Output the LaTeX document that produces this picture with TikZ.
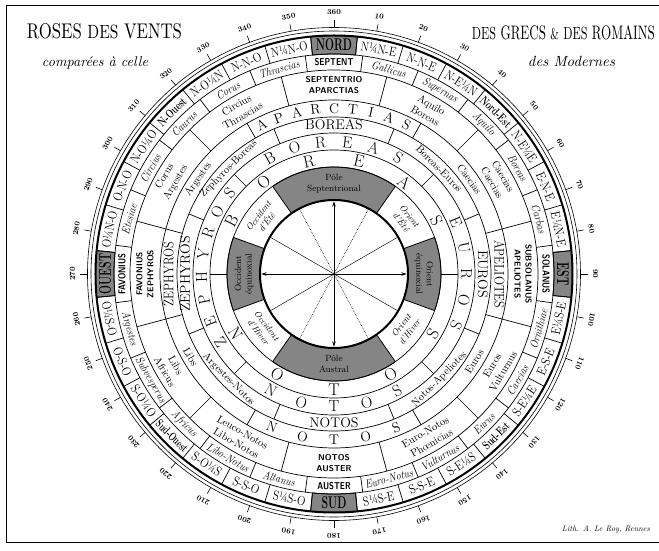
\documentclass[tikz,border=0pt]{standalone}
\usepackage{fontspec}
\usepackage{graphicx}
\usetikzlibrary{arrows.meta}

% fonts of the rings
\newcommand\wfDeg{\fontsize{7.5}{7.5}\selectfont\bfseries}
\newcommand\wfOne{\fontsize{13}{13}\selectfont}
\newcommand\wfOneB{\fontsize{12}{12}\selectfont\bfseries}
\newcommand\wfCard{\fontsize{17}{17}\selectfont\bfseries}
\newcommand\wfTwo{\fontsize{11.5}{11.5}\selectfont\itshape}
\newcommand\wfSans{\fontsize{10}{10}\selectfont\sffamily\bfseries}
\newcommand\wfThr{\fontsize{10.5}{12.5}\selectfont\addfontfeatures{LetterSpace=10}}
\newcommand\wfThrC{\fontsize{8.5}{11}\selectfont\sffamily\bfseries\addfontfeatures{LetterSpace=18}}
\newcommand\wfBig{\fontsize{14}{14}\selectfont}
\newcommand\wfSml{\fontsize{10.5}{10.5}\selectfont\addfontfeatures{LetterSpace=8}}
\newcommand\wfSix{\fontsize{16}{16}\selectfont}
\newcommand\wfSev{\fontsize{17}{17}\selectfont}
\newcommand\wfPole{\fontsize{9}{10.5}\selectfont\addfontfeatures{LetterSpace=6}}
\newcommand\wfSol{\fontsize{9}{10.5}\selectfont\itshape}
\newcommand\cnd[2]{\scalebox{#1}[1]{#2}}

% annular sector between bearings #2 and #3, radii #4 (in) and #5 (out)
\newcommand\annsec[5][]{%
  \path[#1] ({90-(#2)}:#5) arc[start angle={90-(#2)}, end angle={90-(#3)}, radius=#5pt]
    -- ({90-(#3)}:#4) arc[start angle={90-(#3)}, end angle={90-(#2)}, radius=#4pt] -- cycle;}

\tikzset{
  lab/.style={inner sep=0pt, outer sep=0pt},
  tang/.style={rotate={180*and(#1>90,#1<270)-(#1)}},
  upr/.style={rotate={-(#1)}},
  dwn/.style={rotate={180-(#1)}},
  ringline/.style={line width=0.7pt},
  graybox/.style={fill=black!48, draw=black, line width=0.8pt},
}

\begin{document}
\begin{tikzpicture}[x=1pt,y=1pt,>={Stealth[length=5pt,width=3.5pt]}]
  \useasboundingbox (-334,-277) rectangle (325,274);

  % frame and titles
  \draw[line width=0.8pt] (325,269) -- (-328,269) -- (-328,-268) -- (325,-268);
  \node[lab] (titleA) at (-229.5,242.5) {\resizebox{155pt}{15pt}{ROSES {\small DES} VENTS}};
  \node[lab] (titleB) at (-239,211) {\resizebox{106pt}{!}{\itshape comparées à celle}};
  \node[lab] (titleC) at (229.5,241) {\resizebox{183pt}{14pt}{{\small DES} GRECS {\footnotesize\&} {\small DES} ROMAINS}};
  \node[lab] (titleD) at (237.5,212.5) {\resizebox{87pt}{!}{\itshape des Modernes}};
  \node[lab] (lith) at (272,-255) {\resizebox{88pt}{!}{\itshape Lith. A. Le Roy, Rennes}};

  % gray boxes
  \foreach \brg in {0,90,180,270}
    \annsec[graybox]{\brg-5.625}{\brg+5.625}{220}{238.5};
  \annsec[graybox]{-35}{35}{74}{107}
  \annsec[graybox]{145}{215}{74}{107}
  \annsec[graybox]{70}{110}{74}{107}
  \annsec[graybox]{250}{290}{74}{107}

  % circles
  \draw[line width=0.6pt] (0,0) circle[radius=246.5pt] (0,0) circle[radius=243pt];
  \draw[line width=2pt] (0,0) circle[radius=238.5pt];
  \foreach \r in {220pt,204pt,174pt,157pt,141pt,124pt,107pt}
    \draw[ringline] (0,0) circle[radius=\r];
  \draw[line width=2pt] (0,0) circle[radius=74pt];

  % degrees
  \foreach \dg in {10,20,...,360}{
    \draw[line width=0.6pt] ({90-\dg}:246.5) -- ({90-\dg}:253.5);
    \node[lab, font=\wfDeg, upr=\dg] (deg\dg) at ({90-\dg}:261.5) {\dg};
  }

  % ring 1: the 32 points of the moderns
  \foreach \i in {0,...,31}
    \draw[ringline] ({84.375-11.25*\i}:220) -- ({84.375-11.25*\i}:238.5);
  \foreach \txt [count=\i from 0] in {{},N¼N-E,N-N-E,N-E¼N,{},N-E¼E,E-N-E,E¼N-E,{},E¼S-E,E-S-E,S-E¼E,{},S-E¼S,S-S-E,S¼S-E,{},S¼S-O,S-S-O,S-O¼S,{},S-O¼O,O-S-O,O¼S-O,{},O¼N-O,O-N-O,N-O¼O,{},N-O¼N,N-N-O,N¼N-O}{
    \pgfmathsetmacro\brg{11.25*\i}
    \node[lab, font=\wfOne, tang=\brg] (ra\i) at ({90-\brg}:229) {\cnd{0.85}{\txt}};
  }
  \node[lab, font=\wfCard, tang=0] (nord) at (90:229) {\cnd{0.62}{NORD}};
  \node[lab, font=\wfCard, tang=90] (est) at (0:229) {\cnd{0.62}{EST}};
  \node[lab, font=\wfCard, tang=180] (sud) at (-90:229) {\cnd{0.62}{SUD}};
  \node[lab, font=\wfCard, tang=270] (ouest) at (180:229) {\cnd{0.62}{OUEST}};
  \node[lab, font=\wfOneB, tang=45] (nordest) at (45:229) {\cnd{0.72}{Nord-Est}};
  \node[lab, font=\wfOneB, tang=135] (sudest) at (-45:229) {\cnd{0.72}{Sud-Est}};
  \node[lab, font=\wfOneB, tang=225] (sudouest) at (-135:229) {\cnd{0.66}{Sud-Ouest}};
  \node[lab, font=\wfOneB, tang=315] (nouest) at (135:229) {\cnd{0.72}{N-Ouest}};

  % ring 2: the 24 winds of the romans
  \foreach \i in {0,...,23}
    \draw[ringline] ({82.5-15*\i}:204) -- ({82.5-15*\i}:220);
  \foreach \txt [count=\i from 0] in {{},Gallicus,Supernas,Aquilo,Boreas,Carbas,{},Ornithiae,Caecias,Eurus,Vulturnus,Euro-Notus,{},Altanus,Libo-Notus,Africus,Subvesperus,Argestes,{},Etesiae,Circius,Caurus,Corus,Thrascias}{
    \pgfmathsetmacro\brg{15*\i}
    \node[lab, font=\wfTwo, tang=\brg] (rb\i) at ({90-\brg}:212) {\cnd{0.88}{\txt}};
  }
  \node[lab, font=\wfSans, tang=0] (septent) at (90:212) {\cnd{0.8}{SEPTENT}};
  \node[lab, font=\wfSans, tang=90] (solanus) at (0:212) {\cnd{0.8}{SOLANUS}};
  \node[lab, font=\wfSans, tang=180] (auster) at (-90:212) {\cnd{0.8}{AUSTER}};
  \node[lab, font=\wfSans, tang=270] (favonius) at (180:212) {\cnd{0.8}{FAVONIUS}};

  % ring 3: 12 winds, greek and latin names
  \foreach \i in {0,...,11}
    \draw[ringline] ({75-30*\i}:174) -- ({75-30*\i}:204);
  \foreach \ta/\tb [count=\i from 0] in {{}/{},Aquilo/Boreas,Caecias/Caecias,{}/{},Euros/Vulturnus,Euro-Notos/Phœnicias,{}/{},Leuco-Notos/Libo-Notos,Libs/Africus,{}/{},Corus/Argestes,Circius/Thrascias}{
    \pgfmathsetmacro\brg{30*\i}
    \node[lab, font=\wfThr, align=center, tang=\brg] (rc\i) at ({90-\brg}:189) {\ta\\\tb};
  }
  \node[lab, font=\wfThrC, align=center, tang=0] (septentrio) at (90:189) {SEPTENTRIO\\APARCTIAS};
  \node[lab, font=\wfThrC, align=center, tang=90] (subsolanus) at (0:189) {SUBSOLANUS\\APELIOTES};
  \node[lab, font=\wfThrC, align=center, tang=180] (notosaus) at (-90:189) {NOTOS\\AUSTER};
  \node[lab, font=\wfThrC, align=center, tang=270] (favzeph) at (180:189) {FAVONIUS\\ZEPHYROS};

  % ring 4: 8 winds
  \foreach \brg in {30,75,105,150,210,255,285,330}
    \draw[ringline] ({90-\brg}:157) -- ({90-\brg}:174);
  \foreach \ch [count=\i from 0] in {A,P,A,R,C,T,I,A,S}{
    \pgfmathsetmacro\brg{-26+6.5*\i}
    \node[lab, font=\wfBig, upr=\brg] (apa\i) at ({90-\brg}:165.5) {\ch};
  }
  \foreach \ch [count=\i from 0] in {N,O,T,O,S}{
    \pgfmathsetmacro\brg{202-11*\i}
    \node[lab, font=\wfBig, dwn=\brg] (nota\i) at ({90-\brg}:165.5) {\ch};
  }
  \node[lab, font=\wfSml, tang=55] (caecias) at ({90-55}:165.5) {Caecias};
  \node[lab, font=\wfBig, tang=90] (apeliotes) at (0:165.5) {\cnd{0.85}{APELIOTES}};
  \node[lab, font=\wfSml, tang=122] (euros) at ({90-122}:165.5) {Euros};
  \node[lab, font={\wfSml\addfontfeatures{LetterSpace=25}}, tang=240] (libs) at ({90-240}:165.5) {Libs};
  \node[lab, font=\wfBig, tang=270] (zephA) at (180:165.5) {\cnd{0.85}{ZEPHYROS}};
  \node[lab, font=\wfSml, tang=305] (argestes) at ({90-305}:165.5) {Argestes};

  % ring 5: 8 winds
  \foreach \i in {0,...,7}
    \draw[ringline] ({67.5-45*\i}:141) -- ({67.5-45*\i}:157);
  \node[lab, font={\wfBig\addfontfeatures{LetterSpace=8}}, tang=0] (boreasB) at (90:149) {BOREAS};
  \node[lab, font=\wfSml, tang=45] (boreu) at (45:149) {Boreas-Euros};
  \node[lab, font={\wfBig\addfontfeatures{LetterSpace=5}}, tang=90] (eurosB) at (0:149) {EUROS};
  \node[lab, font=\wfSml, tang=135] (notapel) at (-45:149) {Notos-Apeliotes};
  \node[lab, font={\wfBig\addfontfeatures{LetterSpace=15}}, tang=180] (notosB) at (-90:149) {NOTOS};
  \node[lab, font=\wfSml, tang=225] (argnot) at (-135:149) {Argestes-Notos};
  \node[lab, font=\wfBig, tang=270] (zephB) at (180:149) {ZEPHYROS};
  \node[lab, font=\wfSml, tang=315] (zephbor) at (135:149) {Zephyros-Boreas};

  % ring 6: the 4 winds
  \foreach \i in {0,...,3}
    \draw[ringline] ({45-90*\i}:124) -- ({45-90*\i}:141);
  \foreach \ch [count=\i from 0] in {B,O,R,E,A,S}{
    \pgfmathsetmacro\brg{-29+11.6*\i}
    \node[lab, font=\wfSix, upr=\brg] (borc\i) at ({90-\brg}:132.5) {\ch};
  }
  \foreach \ch [count=\i from 0] in {E,U,R,O,S}{
    \pgfmathsetmacro\brg{67+11.5*\i}
    \node[lab, font=\wfSix, upr=\brg] (eurc\i) at ({90-\brg}:132.5) {\ch};
  }
  \foreach \ch [count=\i from 0] in {N,O,T,O,S}{
    \pgfmathsetmacro\brg{208.5-14.25*\i}
    \node[lab, font=\wfSix, dwn=\brg] (notc\i) at ({90-\brg}:132.5) {\ch};
  }
  \foreach \ch [count=\i from 0] in {Z,E,P,H,Y,R,O,S}{
    \pgfmathsetmacro\brg{239+9.857*\i}
    \node[lab, font=\wfSix, upr=\brg] (zepc\i) at ({90-\brg}:132.5) {\ch};
  }

  % ring 7: the 2 winds
  \draw[ringline] (0:107) -- (0:124) (180:107) -- (180:124);
  \foreach \ch [count=\i from 0] in {B,O,R,E,A,S}{
    \pgfmathsetmacro\brg{-62.5+25*\i}
    \node[lab, font=\wfSev, upr=\brg] (bord\i) at ({90-\brg}:115.5) {\ch};
  }
  \foreach \ch [count=\i from 0] in {N,O,T,O,S}{
    \pgfmathsetmacro\brg{238.7-29.35*\i}
    \node[lab, font=\wfSev, dwn=\brg] (notd\i) at ({90-\brg}:115.5) {\ch};
  }

  % poles, sunrise and sunset
  \node[lab, font=\wfPole, align=center, tang=0] (polen) at (90:90) {Pôle\\Septentrional};
  \node[lab, font=\wfPole, align=center, tang=180] (poles) at (-90:90) {Pôle\\Austral};
  \node[lab, font=\wfPole, align=center, tang=90] (orieq) at (0:90) {Orient\\équinoxial};
  \node[lab, font=\wfPole, align=center, tang=270] (occeq) at (180:90) {Occident\\équinoxial};
  \node[lab, font=\wfSol, align=center, tang=52.5] (oriete) at ({90-52.5}:90) {Orient\\d’Été};
  \node[lab, font=\wfSol, align=center, tang=127.5] (orihiv) at ({90-127.5}:90) {Orient\\d’Hiver};
  \node[lab, font=\wfSol, align=center, tang=232.5] (occhiv) at ({90-232.5}:90) {Occident\\d’Hiver};
  \node[lab, font=\wfSol, align=center, tang=307.5] (occete) at ({90-307.5}:90) {Occident\\d’Été};

  % inner circle
  \draw[<->, line width=0.6pt] (90:72.5) -- (270:72.5);
  \draw[<->, line width=0.6pt] (0:72.5) -- (180:72.5);
  \draw[line width=0.45pt] (30:73) -- (210:73) (150:73) -- (330:73);
  \draw[line width=0.6pt, densely dotted] (62:73) -- (242:73) (118:73) -- (298:73);
\end{tikzpicture}
\end{document}
